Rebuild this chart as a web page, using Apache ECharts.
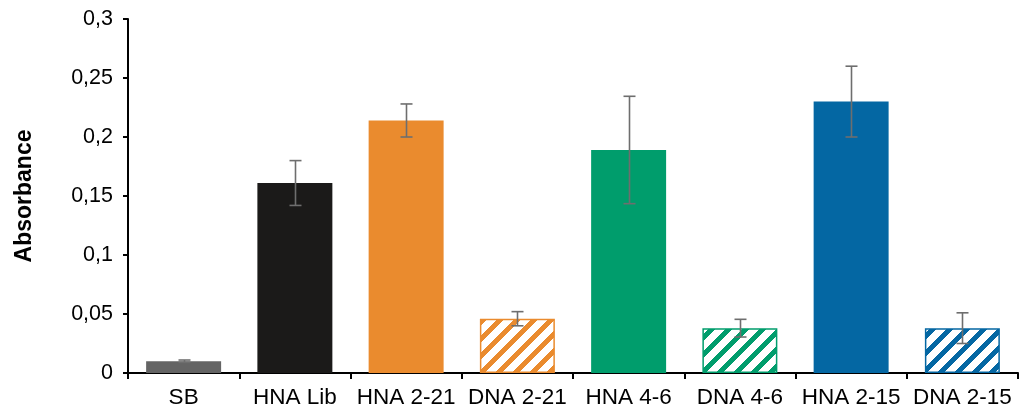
<!DOCTYPE html>
<html>
<head>
<meta charset="utf-8">
<script src="https://cdn.jsdelivr.net/npm/echarts@6/dist/echarts.min.js"></script>
<style>
  html, body { margin: 0; padding: 0; background: #ffffff; }
  #chart { width: 1025px; height: 419px; }
</style>
</head>
<body>
<div id="chart"></div>
<script>
// Absorbance per sample, mean with error
const categories = ['SB', 'HNA Lib', 'HNA 2-21', 'DNA 2-21', 'HNA 4-6', 'DNA 4-6', 'HNA 2-15', 'DNA 2-15'];
const means = [0.010, 0.161, 0.214, 0.046, 0.189, 0.038, 0.230, 0.038];
const errors = [0.001, 0.019, 0.014, 0.006, 0.0455, 0.0075, 0.030, 0.013];
const colors = ['#646464', '#1b1a19', '#ea8b2e', '#ea8b2e', '#009d6c', '#009d6c', '#0467a3', '#0467a3'];
const hatched = [false, false, false, true, false, true, false, true];
const yTicks = { min: 0, max: 0.3, interval: 0.05 };

const FONT = '"Liberation Sans", Arial, sans-serif';

// Wide upward diagonal stripes on white
function stripeTile(color) {
  const P = 17, w = 7;
  const c = document.createElement('canvas');
  c.width = P; c.height = P;
  const ctx = c.getContext('2d');
  ctx.fillStyle = '#ffffff';
  ctx.fillRect(0, 0, P, P);
  ctx.fillStyle = color;
  for (let y = 0; y < P; y++) {
    for (let x = 0; x < P; x++) {
      if (((x + y) % P) < w) ctx.fillRect(x, y, 1, 1);
    }
  }
  return c;
}

const barData = means.map((v, i) => ({
  value: v,
  itemStyle: hatched[i]
    ? { color: { image: stripeTile(colors[i]), repeat: 'repeat' }, borderColor: colors[i], borderWidth: 1.5 }
    : { color: colors[i] }
}));

const errData = means.map((v, i) => [i, v - errors[i], v + errors[i]]);

const chart = echarts.init(document.getElementById('chart'), null, { renderer: 'canvas' });
chart.setOption({
  animation: false,
  backgroundColor: '#ffffff',
  grid: { left: 128, right: 7, top: 19, bottom: 46, containLabel: false, outerBoundsMode: 'none' },
  xAxis: {
    type: 'category',
    data: categories,
    axisLine: { lineStyle: { color: '#000000', width: 2 } },
    axisTick: { show: true, length: 6, lineStyle: { color: '#000000', width: 2 } },
    axisLabel: { color: '#000000', fontFamily: FONT, fontSize: 22.5, margin: 13, interval: 0 }
  },
  yAxis: {
    type: 'value',
    min: yTicks.min,
    max: yTicks.max,
    interval: yTicks.interval,
    name: 'Absorbance',
    nameLocation: 'middle',
    nameGap: 92,
    nameRotate: 90,
    nameTextStyle: { color: '#000000', fontFamily: FONT, fontSize: 23, fontWeight: 'bold' },
    axisLine: { show: true, lineStyle: { color: '#000000', width: 2 } },
    axisTick: { show: true, inside: false, length: 5, lineStyle: { color: '#000000', width: 2 } },
    splitLine: { show: false },
    axisLabel: {
      color: '#000000', fontFamily: FONT, fontSize: 21.5, margin: 15,
      formatter: v => String(+v.toFixed(2)).replace('.', ',')
    }
  },
  series: [
    {
      type: 'bar',
      data: barData,
      barCategoryGap: '32.6%',
      z: 2
    },
    {
      type: 'custom',
      data: errData,
      z: 5,
      renderItem: function (params, api) {
        const i = api.value(0);
        const lo = api.coord([i, api.value(1)]);
        const hi = api.coord([i, api.value(2)]);
        const x = Math.round(lo[0]) + 0.5;
        const half = 6;
        const style = { stroke: '#6e6e6e', lineWidth: 1.6 };
        return {
          type: 'group',
          children: [
            { type: 'line', shape: { x1: x, y1: lo[1], x2: x, y2: hi[1] }, style },
            { type: 'line', shape: { x1: x - half, y1: lo[1], x2: x + half, y2: lo[1] }, style },
            { type: 'line', shape: { x1: x - half, y1: hi[1], x2: x + half, y2: hi[1] }, style }
          ]
        };
      }
    }
  ]
});
</script>
</body>
</html>
